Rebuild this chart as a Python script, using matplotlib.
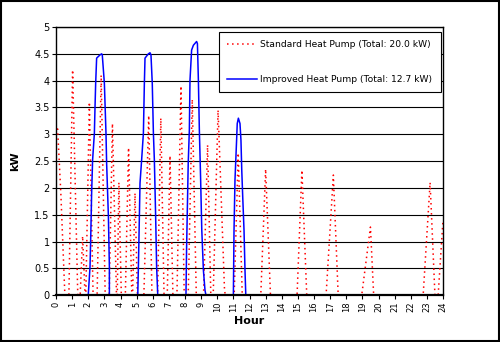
import matplotlib
matplotlib.use("Agg")
import matplotlib.pyplot as plt

# Standard heat pump (red dotted)
std_hours = [0.00, 0.10, 0.30, 0.55, 0.80, 1.03, 1.35, 1.50, 1.65, 1.80,
             1.85, 2.07, 2.30, 2.55, 2.80, 3.05, 3.30, 3.50, 3.75, 3.80,
             3.90, 4.05, 4.30, 4.50, 4.70, 4.75, 4.90, 5.05, 5.45, 5.75,
             5.95, 6.30, 6.50, 6.70, 6.90, 7.07, 7.25, 7.50, 7.75, 7.95,
             8.20, 8.45, 8.70, 9.15, 9.40, 9.60, 9.75, 10.05, 10.45, 10.50,
             11.05, 11.30, 11.55, 12.70, 13.00, 13.30, 14.95, 15.25, 15.55, 16.75,
             17.20, 17.50, 18.96, 19.50, 19.70, 22.77, 23.20, 23.50, 23.70, 24.00]
std_kw = [3.00, 3.10, 1.90, 0.00, 0.00, 4.20, 0.00, 0.00, 1.10, 0.00,
          0.00, 3.60, 0.00, 0.00, 4.10, 0.00, 0.00, 3.20, 0.00, 0.00,
          2.10, 0.00, 0.00, 2.75, 0.00, 0.00, 1.90, 0.00, 0.00, 3.35,
          0.00, 0.00, 3.30, 0.00, 0.00, 2.60, 0.00, 0.00, 3.90, 0.00,
          0.00, 3.65, 0.00, 0.00, 2.80, 0.00, 0.00, 3.45, 0.10, 0.00,
          0.00, 2.65, 0.00, 0.00, 2.35, 0.00, 0.00, 2.33, 0.00, 0.00,
          2.24, 0.00, 0.00, 1.27, 0.00, 0.00, 2.10, 0.00, 0.00, 1.40]

# Improved heat pump (blue solid)
imp_hours = [0.00, 2.00, 2.11, 2.15, 2.21, 2.27, 2.38, 2.42, 2.46, 2.52,
             2.73, 2.83, 2.87, 3.00, 3.10, 3.14, 3.25, 3.31, 3.31,
             5.07, 5.11, 5.17, 5.21, 5.31, 5.42, 5.48, 5.52, 5.73, 5.83,
             5.89, 5.97, 6.04, 6.10, 6.18, 6.24, 6.31,
             8.06, 8.10, 8.20, 8.27, 8.31, 8.41, 8.52, 8.72, 8.77, 8.83,
             8.89, 8.97, 9.04, 9.14, 9.24, 9.30,
             11.00, 11.04, 11.10, 11.20, 11.24, 11.31, 11.41, 11.47, 11.52, 11.58,
             11.66, 11.72, 11.77, 24.00]
imp_kw = [0.00, 0.00, 0.53, 1.03, 1.90, 2.52, 3.02, 3.51, 3.95, 4.42,
          4.48, 4.50, 4.48, 3.95, 3.02, 2.46, 1.46, 0.53, 0.00,
          0.00, 0.53, 1.46, 2.09, 2.52, 3.02, 3.95, 4.42, 4.50, 4.52,
          4.48, 3.95, 3.02, 2.52, 1.46, 0.53, 0.00,
          0.00, 0.90, 2.46, 3.08, 4.01, 4.57, 4.66, 4.73, 4.69, 4.01,
          3.08, 2.15, 1.22, 0.47, 0.09, 0.00,
          0.00, 1.21, 2.15, 2.89, 3.20, 3.30, 3.20, 2.89, 2.33, 1.83,
          1.21, 0.47, 0.00, 0.00]

x_ticks = list(range(0, 25))
y_ticks = [0, 0.5, 1, 1.5, 2, 2.5, 3, 3.5, 4, 4.5, 5]
y_labels = ["0", "0.5", "1", "1.5", "2", "2.5", "3", "3.5", "4", "4.5", "5"]
std_label = "Standard Heat Pump (Total: 20.0 kW)"
imp_label = "Improved Heat Pump (Total: 12.7 kW)"

plt.rcParams['font.family'] = ['DejaVu Sans']

fig = plt.figure(figsize=(5.0, 3.42), dpi=100)
ax = fig.add_axes([0.112, 0.137, 0.774, 0.784])

for y in y_ticks:
    ax.axhline(y, color="black", lw=0.8, zorder=1)

ax.plot(std_hours, std_kw, color="#ff0000", lw=1.1, linestyle=(0, (1, 2.3)),
        label=std_label, zorder=3)
ax.plot(imp_hours, imp_kw, color="#0000ff", lw=1.1, label=imp_label, zorder=3)

ax.set_xlim(0, 24)
ax.set_ylim(0, 5)
ax.set_xticks(x_ticks)
ax.set_xticklabels([str(v) for v in x_ticks], rotation=90, fontsize=6)
ax.set_yticks(y_ticks)
ax.set_yticklabels(y_labels, fontsize=7)
ax.tick_params(axis="both", direction="out", length=3, width=0.8, pad=1.5)

for s in ax.spines.values():
    s.set_color("black")
    s.set_linewidth(1.0)
    s.set_zorder(5)
ax.spines["bottom"].set_linewidth(1.6)

ax.set_xlabel("Hour", fontsize=8, fontweight="bold", labelpad=3)
ax.set_ylabel("kW", fontsize=8, fontweight="bold", labelpad=10)

leg = ax.legend(loc="upper right", bbox_to_anchor=(0.994, 0.982), fontsize=6.6,
                frameon=True, fancybox=False, handlelength=3.2,
                borderpad=0.9, labelspacing=2.8, handletextpad=0.4,
                borderaxespad=0)
leg.get_frame().set_edgecolor("black")
leg.get_frame().set_linewidth(0.8)
leg.get_frame().set_facecolor("white")
leg.get_frame().set_alpha(1)
leg.set_zorder(6)

border = plt.Rectangle((0.002, 0.003), 0.996, 0.994, transform=fig.transFigure,
                       fill=False, edgecolor="black", lw=1.5)
fig.patches.append(border)

fig.savefig("out.png", dpi=100)
